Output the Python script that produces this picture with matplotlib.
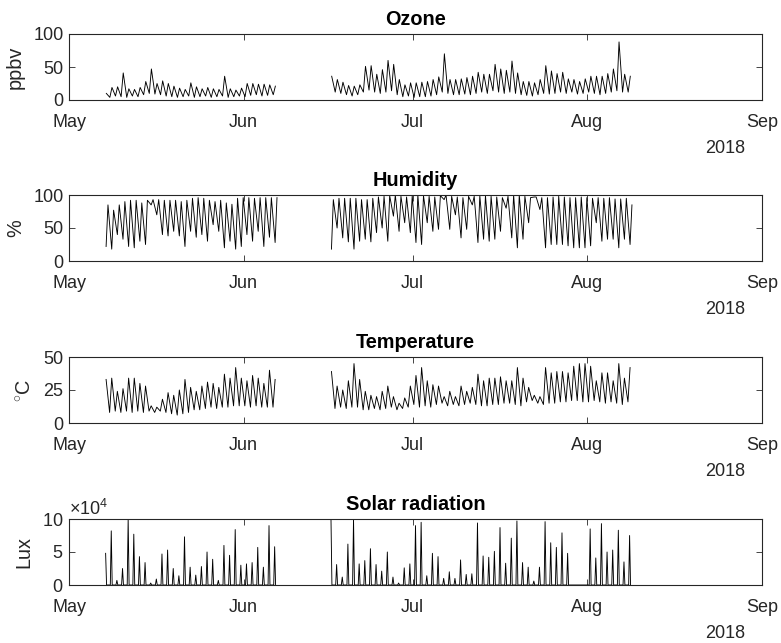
import numpy as np
import matplotlib
matplotlib.use("Agg")
import matplotlib.pyplot as plt
import matplotlib.dates as mdates
from matplotlib.ticker import ScalarFormatter, FixedLocator

# ---------------------------------------------------------------------------
# Field campaign 2018: two measurement periods, one value pair per day
# ---------------------------------------------------------------------------
seg1_first_day, seg1_start, seg1_end = "2018-05-07", "2018-05-07T12:00", "2018-06-06T22:00"
seg2_first_day, seg2_start, seg2_end = "2018-06-16", "2018-06-16T12:00", "2018-08-08T22:00"

# Ozone (ppbv): daily early-morning low and afternoon high
ozone_low_1 = [5, 4, 6, 5, 4, 6, 5, 8, 10, 9, 8, 6, 5, 4, 5, 6, 4, 5, 6, 4,
               5, 6, 4, 5, 6, 5, 7, 8, 6, 7, 8]
ozone_high_1 = [10, 19, 20, 41, 17, 16, 19, 28, 47, 25, 29, 25, 21, 18, 16, 26,
                20, 17, 19, 17, 16, 36, 17, 15, 18, 25, 25, 24, 24, 23, 21]
ozone_low_2 = [10, 12, 10, 8, 6, 8, 12, 15, 12, 10, 12, 14, 8, 5, 6, 4, 5, 5,
               6, 8, 12, 10, 8, 8, 9, 8, 10, 12, 10, 14, 12, 10, 12, 10, 8, 7,
               6, 8, 10, 9, 10, 12, 10, 12, 9, 10, 12, 10, 8, 10, 12, 14, 12, 12]
ozone_high_2 = [36, 31, 27, 22, 21, 23, 51, 52, 39, 46, 60, 54, 31, 23, 26, 26,
                27, 28, 31, 35, 70, 31, 31, 32, 34, 36, 42, 39, 39, 54, 47, 45,
                59, 41, 28, 28, 26, 31, 52, 44, 40, 42, 32, 31, 28, 32, 36, 36,
                36, 40, 47, 88, 39, 36]

# Relative humidity (%): afternoon low and night-time high
hum_low_1 = [22, 18, 40, 33, 22, 20, 30, 25, 85, 70, 40, 38, 45, 38, 22, 45,
             36, 40, 30, 55, 45, 20, 30, 18, 22, 40, 30, 45, 22, 36, 28]
hum_high_1 = [85, 77, 85, 90, 92, 92, 88, 92, 93, 93, 92, 92, 92, 90, 92, 95,
              96, 95, 92, 90, 92, 88, 86, 95, 96, 96, 95, 96, 96, 96, 96]
hum_low_2 = [18, 50, 35, 29, 18, 30, 33, 29, 43, 50, 30, 68, 45, 58, 43, 28,
             25, 58, 45, 48, 93, 48, 70, 35, 48, 85, 28, 33, 30, 33, 45, 80,
             35, 20, 33, 58, 97, 78, 20, 25, 25, 25, 23, 20, 20, 20, 23, 58,
             30, 33, 33, 20, 33, 25]
hum_high_2 = [93, 95, 95, 95, 95, 93, 93, 95, 97, 98, 99, 100, 98, 97, 99, 100,
              99, 98, 97, 99, 100, 98, 97, 96, 98, 98, 99, 99, 98, 97, 96, 98,
              100, 100, 98, 96, 97, 96, 96, 97, 98, 97, 96, 96, 97, 96, 95, 96,
              95, 96, 94, 94, 95, 85]

# Temperature (deg C): dawn low and afternoon high
temp_low_1 = [8, 8, 9, 8, 9, 8, 9, 8, 9, 8, 9, 8, 7, 6, 7, 8, 10, 10, 11, 12,
              11, 12, 12, 13, 13, 13, 12, 13, 12, 12, 12]
temp_high_1 = [33, 34, 24, 26, 34, 34, 30, 28, 13, 12, 18, 23, 21, 25, 33, 27,
               24, 28, 31, 30, 27, 37, 34, 42, 34, 32, 36, 34, 30, 40, 33]
temp_low_2 = [11, 11, 12, 11, 12, 12, 10, 10, 11, 10, 11, 12, 10, 11, 12, 14,
              12, 13, 12, 14, 15, 13, 14, 13, 14, 15, 14, 13, 13, 14, 14, 15,
              15, 14, 13, 16, 17, 15, 14, 15, 15, 16, 16, 17, 17, 16, 16, 17,
              16, 15, 16, 15, 14, 16]
temp_high_2 = [39, 28, 25, 32, 45, 33, 24, 21, 20, 24, 28, 20, 15, 19, 28, 36,
               42, 32, 29, 28, 20, 24, 20, 28, 24, 27, 37, 32, 34, 34, 35, 32,
               32, 42, 34, 27, 21, 20, 42, 38, 39, 39, 38, 43, 45, 45, 43, 32,
               38, 38, 32, 45, 34, 42]

# Solar radiation (x1e4 lux): midday peak of each day
solar_peak_1 = [4.8, 8.2, 0.7, 2.5, 10, 7.7, 4.3, 3.4, 0.3, 0.9, 4.7, 5.3, 2.5,
                1.4, 7.3, 2.7, 1.5, 2.8, 5.0, 3.9, 0.7, 6.0, 4.5, 8.4, 3.0, 3.2,
                3.4, 5.7, 2.7, 9.0, 5.8]
solar_peak_2 = [10, 3.1, 1.2, 6.2, 10, 3.2, 3.7, 5.5, 3.1, 2.1, 5.0, 1.2, 0.3,
                2.6, 3.2, 9.0, 9.5, 1.4, 4.8, 4.3, 1.0, 2.0, 1.0, 3.8, 1.6, 1.7,
                9.4, 4.4, 4.2, 5.1, 8.7, 3.3, 7.1, 9.7, 3.4, 2.7, 0.6, 2.7, 9.6,
                6.4, 5.7, 7.9, 4.8, 0, 0, 0, 8.5, 4.1, 9.3, 5.0, 5.3, 8.3, 3.5,
                7.5]

titles = ["Ozone", "Humidity", "Temperature", "Solar radiation"]
ylabels = ["ppbv", "%", r"$^{\circ}$C", "Lux"]
month_ticks = ["2018-05-01", "2018-06-01", "2018-07-01", "2018-08-01", "2018-09-01"]
month_labels = ["May", "Jun", "Jul", "Aug", "Sep"]
year_label = "2018"


def segment(first_day, start, end, parts):
    """Daily samples at fixed hours, kept inside the logging window."""
    n = len(parts[0][1])
    days = np.datetime64(first_day) + np.arange(n).astype("timedelta64[D]")
    t = np.concatenate([days + np.timedelta64(int(h * 60), "m") for h, _ in parts])
    v = np.concatenate([np.asarray(vals, float) for _, vals in parts])
    order = np.argsort(t)
    t, v = t[order], v[order]
    keep = (t >= np.datetime64(start)) & (t <= np.datetime64(end))
    return t[keep], v[keep]


def series(parts1, parts2, scale=1.0):
    t1, v1 = segment(seg1_first_day, seg1_start, seg1_end, parts1)
    t2, v2 = segment(seg2_first_day, seg2_start, seg2_end, parts2)
    gap_t = np.array([t1[-1] + np.timedelta64(1, "h")])
    t = np.concatenate([t1, gap_t, t2])
    v = np.concatenate([v1, [np.nan], v2]) * scale
    return t, v


def nights(n):
    return np.zeros(n)


data = [
    series([(6, ozone_low_1), (15, ozone_high_1)],
           [(6, ozone_low_2), (15, ozone_high_2)]),
    series([(14, hum_low_1), (22, hum_high_1)],
           [(14, hum_low_2), (22, hum_high_2)]),
    series([(5, temp_low_1), (14, temp_high_1)],
           [(5, temp_low_2), (14, temp_high_2)]),
    series([(8, nights(len(solar_peak_1))), (12, solar_peak_1), (16, nights(len(solar_peak_1)))],
           [(8, nights(len(solar_peak_2))), (12, solar_peak_2), (16, nights(len(solar_peak_2)))],
           scale=1e4),
]
ylims = [(0, 100), (0, 100), (0, 50), (0, 1e5)]
yticks = [[0, 50, 100], [0, 50, 100], [0, 25, 50], [0, 5e4, 1e5]]

plt.rcParams.update({
    "font.family": ["Liberation Sans", "DejaVu Sans"],
    "mathtext.fontset": "custom",
    "mathtext.rm": "Liberation Sans",
    "mathtext.it": "Liberation Sans",
    "mathtext.bf": "Liberation Sans:bold",
})

W, H = 781, 643
fig = plt.figure(figsize=(W / 100, H / 100), dpi=100)
ax_color = "#262626"
tops = [34, 195, 357, 519]
ax_h = 66
left, right = 69, 762

xmin = mdates.date2num(np.datetime64("2018-05-01"))
xmax = mdates.date2num(np.datetime64("2018-09-01"))
tick_pos = [mdates.date2num(np.datetime64(d)) for d in month_ticks]

for i in range(4):
    ax = fig.add_axes([left / W, 1 - (tops[i] + ax_h) / H, (right - left) / W, ax_h / H])
    t, v = data[i]
    ax.plot(mdates.date2num(t), v, color="black", lw=0.65)
    ax.set_xlim(xmin, xmax)
    ax.set_ylim(*ylims[i])
    ax.xaxis.set_major_locator(FixedLocator(tick_pos))
    ax.set_xticklabels(month_labels)
    ax.set_yticks(yticks[i])
    ax.tick_params(direction="in", top=True, right=True, length=4, width=0.6,
                   colors=ax_color, labelsize=13, labelcolor=ax_color)
    ax.tick_params(axis="x", pad=10)
    ax.tick_params(axis="y", pad=4)
    for sp in ax.spines.values():
        sp.set_color(ax_color)
        sp.set_linewidth(0.8)
    ax.set_title(titles[i], fontsize=14.3, fontweight="bold", pad=6.5)
    ax.set_ylabel(ylabels[i], fontsize=14.3, color=ax_color, labelpad=6)
    ax.annotate(year_label, xy=(1, 0), xycoords="axes fraction",
                xytext=(-17, -40), textcoords="offset pixels",
                ha="right", va="top", fontsize=13, color=ax_color)
    if i == 3:
        fmt = ScalarFormatter(useMathText=True)
        fmt.set_powerlimits((4, 4))
        ax.yaxis.set_major_formatter(fmt)
        ax.yaxis.get_offset_text().set_fontsize(13)
        ax.yaxis.get_offset_text().set_color(ax_color)

fig.savefig("out.png", dpi=100)
